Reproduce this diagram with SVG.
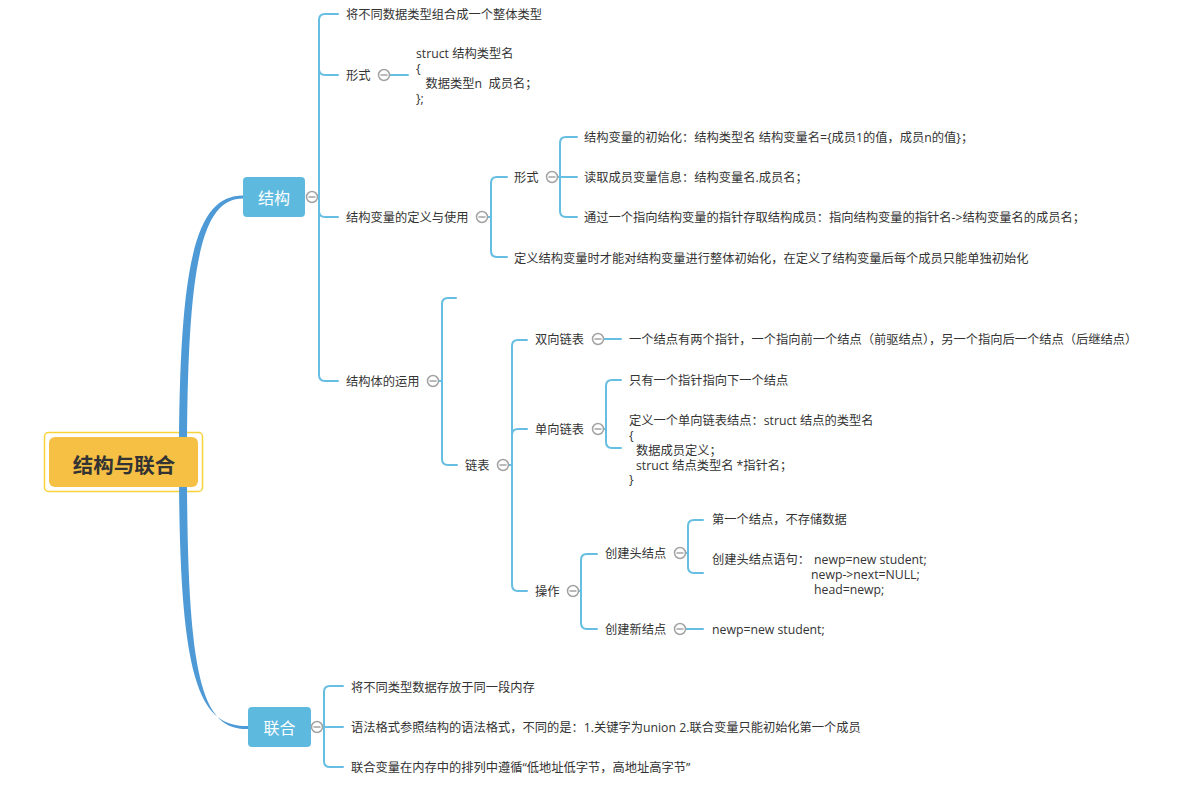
<svg xmlns="http://www.w3.org/2000/svg" width="1190" height="801" viewBox="0 0 1190 801">
<defs>
<style>
.t{font-family:"Open Sans","Noto Sans CJK SC",sans-serif;font-size:12.25px;fill:#333;dominant-baseline:central}
.c{fill:none;stroke:#66BEE2;stroke-width:2;stroke-linecap:round}
.tog circle{fill:#fff;stroke:#A3A3A3;stroke-width:1.5}
.tog line{stroke:#A3A3A3;stroke-width:1.5}
.main{fill:#5DB9DE}
.mt{font-family:"Noto Sans CJK SC",sans-serif;font-size:16px;fill:#fff;text-anchor:middle;dominant-baseline:central}
</style>
<g id="toggle" class="tog"><circle cx="0" cy="0" r="5.5"/><line x1="-3.5" y1="0" x2="3.5" y2="0"/></g>
</defs>
<rect width="1190" height="801" fill="#fff"/>

<!-- root outer border -->
<rect x="44.5" y="432.5" width="158" height="59" rx="4" fill="none" stroke="#F7D33A" stroke-width="1.5"/>

<g id="connectors">
<!-- thick curves -->
<path d="M179 462 C179 255 197 196 243 195.5 L243 198.5 C202 199 187 260 187 462 Z" fill="#4E9AD6"/>
<path d="M179 466 C179 680 199 727 248 726 L248 729 C202 730 187 680 187 466 Z" fill="#4E9AD6"/>

<!-- 结构 children -->
<path class="c" d="M317 197 H319 M319 197 V20 Q319 14 325 14 H338 M319 197 V69 Q319 75 325 75 H338 M319 197 V211 Q319 217 325 217 H338 M319 197 V375 Q319 381 325 381 H338"/>
<path class="c" d="M389 75 H408"/>
<path class="c" d="M487 217 H491 M491 217 V183 Q491 177 497 177 H507 M491 217 V251 Q491 257 497 257 H507"/>
<path class="c" d="M557 177 H560 M560 177 V143 Q560 137 566 137 H577 M560 177 H577 M560 177 V211 Q560 217 566 217 H577"/>
<path class="c" d="M438 381 H442 M442 381 V304 Q442 298 448 298 H456 M442 381 V459 Q442 465 448 465 H457"/>
<path class="c" d="M508 465 H512 M512 465 V346 Q512 340 518 340 H527 M512 465 V435 Q512 429 518 429 H527 M512 465 V585 Q512 591 518 591 H527"/>
<path class="c" d="M603 339 H621"/>
<path class="c" d="M603 429 H606 M606 429 V386 Q606 380 612 380 H621 M606 429 V442 Q606 448 612 448 H621"/>
<path class="c" d="M578 591 H581 M581 591 V560 Q581 554 587 554 H597 M581 591 V623 Q581 629 587 629 H597"/>
<path class="c" d="M685 553 H688 M688 553 V526 Q688 520 694 520 H703 M688 553 V567 Q688 573 694 573 H703"/>
<path class="c" d="M685 629 H703"/>
<path class="c" d="M322 727 H324 M324 727 V692 Q324 686 330 686 H343 M324 727 H343 M324 727 V761 Q324 767 330 767 H343"/>
</g>

<g id="root">
<rect x="49" y="437" width="149" height="50" rx="6" fill="#F5C043"/>
<text x="124" y="464" font-family="Noto Sans CJK SC,sans-serif" font-size="20.5" font-weight="bold" fill="#333" text-anchor="middle" dominant-baseline="central">结构与联合</text>
</g>

<g id="n-jiegou">
<rect class="main" x="243" y="177" width="62" height="40" rx="4"/>
<text class="mt" x="274" y="197">结构</text>
<use href="#toggle" x="312" y="197"/>
</g>

<g id="n-lianhe">
<rect class="main" x="248" y="707" width="63" height="40" rx="4"/>
<text class="mt" x="279.5" y="727">联合</text>
<use href="#toggle" x="317" y="727"/>
</g>

<g id="n1"><text class="t" x="346" y="14">将不同数据类型组合成一个整体类型</text></g>
<g id="n2"><text class="t" x="346" y="75">形式</text><use href="#toggle" x="384" y="75"/></g>
<g id="n2a"><text class="t" xml:space="preserve"><tspan x="416" y="53">struct 结构类型名</tspan><tspan x="416" y="68">{</tspan><tspan x="416" y="83">   数据类型n  成员名；</tspan><tspan x="416" y="98">};</tspan></text></g>

<g id="n3"><text class="t" x="346" y="217">结构变量的定义与使用</text><use href="#toggle" x="482" y="217"/></g>
<g id="n3a"><text class="t" x="514" y="177">形式</text><use href="#toggle" x="552" y="177"/></g>
<g id="n3a1"><text class="t" x="584" y="137">结构变量的初始化：结构类型名 结构变量名={成员1的值，成员n的值}；</text></g>
<g id="n3a2"><text class="t" x="584" y="177">读取成员变量信息：结构变量名.成员名；</text></g>
<g id="n3a3"><text class="t" x="584" y="217">通过一个指向结构变量的指针存取结构成员：指向结构变量的指针名-&gt;结构变量名的成员名；</text></g>
<g id="n3b"><text class="t" x="514" y="258">定义结构变量时才能对结构变量进行整体初始化，在定义了结构变量后每个成员只能单独初始化</text></g>

<g id="n4"><text class="t" x="346" y="381">结构体的运用</text><use href="#toggle" x="433" y="381"/></g>
<g id="n4a"><text class="t" x="465" y="465">链表</text><use href="#toggle" x="503" y="465"/></g>
<g id="n4a1"><text class="t" x="535" y="339">双向链表</text><use href="#toggle" x="598" y="339"/></g>
<g id="n4a1a"><text class="t" x="629" y="339">一个结点有两个指针，一个指向前一个结点（前驱结点），另一个指向后一个结点（后继结点）</text></g>
<g id="n4a2"><text class="t" x="535" y="429">单向链表</text><use href="#toggle" x="598" y="429"/></g>
<g id="n4a2a"><text class="t" x="629" y="380">只有一个指针指向下一个结点</text></g>
<g id="n4a2b"><text class="t" xml:space="preserve"><tspan x="629" y="420">定义一个单向链表结点：struct 结点的类型名</tspan><tspan x="629" y="435">{</tspan><tspan x="636" y="450">数据成员定义；</tspan><tspan x="636" y="465">struct 结点类型名 *指针名；</tspan><tspan x="629" y="479">}</tspan></text></g>
<g id="n4a3"><text class="t" x="535" y="591">操作</text><use href="#toggle" x="573" y="591"/></g>
<g id="n4a3a"><text class="t" x="605" y="553">创建头结点</text><use href="#toggle" x="680" y="553"/></g>
<g id="n4a3a1"><text class="t" x="712" y="519">第一个结点，不存储数据</text></g>
<g id="n4a3a2"><text class="t" xml:space="preserve"><tspan x="712" y="559">创建头结点语句：</tspan><tspan x="814" y="559">newp=new student;</tspan><tspan x="811" y="574">newp-&gt;next=NULL;</tspan><tspan x="814" y="589">head=newp;</tspan></text></g>
<g id="n4a3b"><text class="t" x="605" y="629">创建新结点</text><use href="#toggle" x="680" y="629"/></g>
<g id="n4a3b1"><text class="t" x="712" y="629">newp=new student;</text></g>

<g id="u1"><text class="t" x="351" y="687">将不同类型数据存放于同一段内存</text></g>
<g id="u2"><text class="t" x="351" y="727">语法格式参照结构的语法格式，不同的是：1.关键字为union 2.联合变量只能初始化第一个成员</text></g>
<g id="u3"><text class="t" x="351" y="767">联合变量在内存中的排列中遵循“低地址低字节，高地址高字节”</text></g>
</svg>
